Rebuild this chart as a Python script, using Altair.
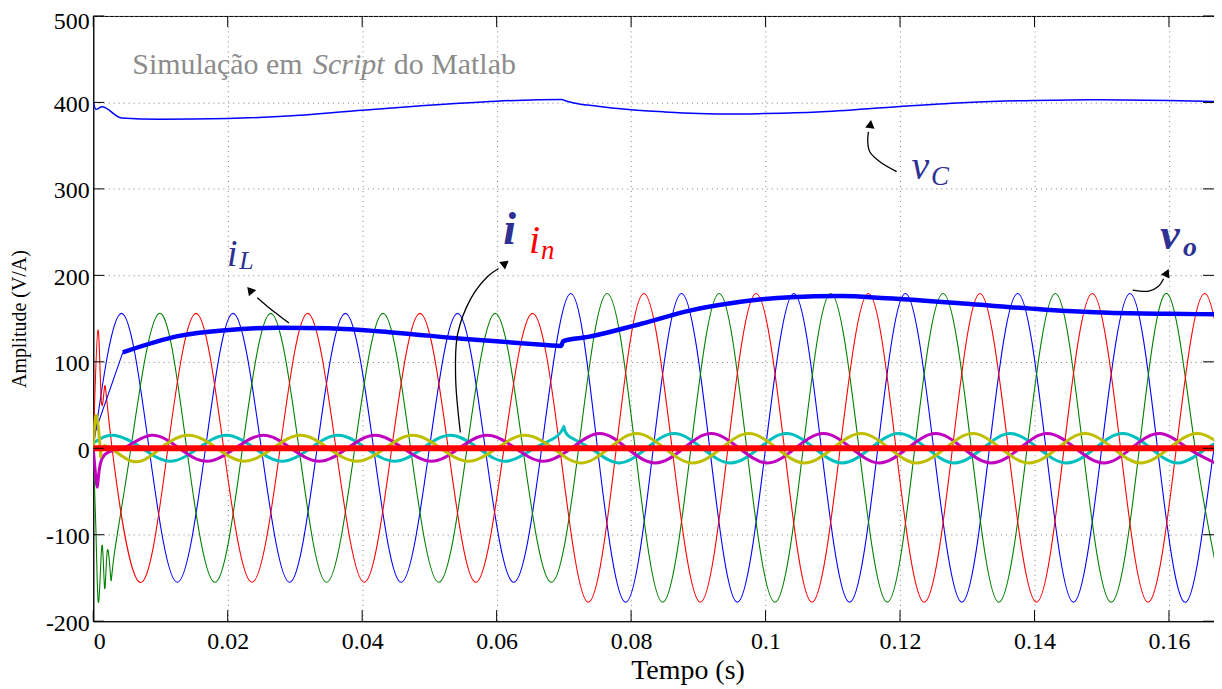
import altair as alt
import pandas as pd

# ---------------- data ----------------
# phase voltages v_o (V): blue = a, green = b, red = c
va_t = [0.0000, 0.0042, 0.0083, 0.0125, 0.0167, 0.0208, 0.0250, 0.0292, 0.0333, 0.0375, 0.0417, 0.0458,
        0.0500, 0.0542, 0.0583, 0.0625, 0.0667, 0.0710, 0.0750, 0.0792, 0.0833, 0.0875, 0.0917,
        0.0958, 0.1000, 0.1042, 0.1083, 0.1125, 0.1167, 0.1208, 0.1250, 0.1292, 0.1333, 0.1375, 0.1417,
        0.1458, 0.1500, 0.1542, 0.1583, 0.1625, 0.1667, 0.1708]
va_v = [0, 156, 0, -155, 0, 156, 0, -155, 0, 156, 0, -155, 0, 156, 0, -155, 0, 179, 0, -178,
        0, 179, 0, -178, 0, 179, 0, -178, 0, 179, 0, -178, 0, 179, 0, -178, 0, 179, 0, -178, 0, 179]

vb_t = [0.0000, 0.0004, 0.0008, 0.0013, 0.0017, 0.0021, 0.0026, 0.0031, 0.0056, 0.0098, 0.0139, 0.0181,
        0.0222, 0.0264, 0.0306, 0.0347, 0.0389, 0.0431, 0.0472, 0.0514, 0.0556, 0.0598, 0.0639, 0.0681,
        0.0722, 0.0764, 0.0806, 0.0847, 0.0889, 0.0931, 0.0972, 0.1014, 0.1056, 0.1097, 0.1139, 0.1181,
        0.1222, 0.1264, 0.1306, 0.1347, 0.1389, 0.1431, 0.1472, 0.1514, 0.1556, 0.1597, 0.1639, 0.1681]
vb_v = [0, -95, -178, -112, -162, -118, -150, -124, 0, 156, 0, -155, 0, 156, 0, -155, 0, 156, 0, -155,
        0, 156, 0, -155, 0, 179, 0, -178, 0, 179, 0, -178, 0, 179, 0, -178, 0, 179, 0, -178,
        0, 179, 0, -178, 0, 179, 0, -178]

vc_t = [0.0000, 0.0007, 0.0012, 0.0017, 0.0028, 0.0069, 0.0111, 0.0153, 0.0194, 0.0236, 0.0278, 0.0319,
        0.0361, 0.0403, 0.0444, 0.0486, 0.0528, 0.0569, 0.0611, 0.0653, 0.0694, 0.0736, 0.0778, 0.0819,
        0.0861, 0.0903, 0.0944, 0.0986, 0.1028, 0.1069, 0.1111, 0.1153, 0.1194, 0.1236, 0.1278, 0.1319,
        0.1361, 0.1403, 0.1444, 0.1486, 0.1528, 0.1569, 0.1611, 0.1653, 0.1694]
vc_v = [0, 137, 55, 72, 0, -155, 0, 156, 0, -155, 0, 156, 0, -155, 0, 156, 0, -155, 0, 156,
        0, -178, 0, 179, 0, -178, 0, 179, 0, -178, 0, 179, 0, -178, 0, 179, 0, -178, 0, 179,
        0, -178, 0, 179, 0]

# phase currents i (A): cyan, magenta, yellow ; neutral current i_n: red
ia_t = [0.0000, 0.0031, 0.0073, 0.0114, 0.0156, 0.0198, 0.0240, 0.0281, 0.0323, 0.0364, 0.0406, 0.0448,
        0.0490, 0.0531, 0.0573, 0.0614, 0.0656, 0.0690, 0.0700, 0.0706, 0.0740, 0.0781, 0.0823, 0.0864,
        0.0906, 0.0948, 0.0990, 0.1031, 0.1073, 0.1114, 0.1156, 0.1198, 0.1240, 0.1281, 0.1323, 0.1364,
        0.1406, 0.1448, 0.1490, 0.1531, 0.1573, 0.1614, 0.1656, 0.1698]
ia_v = [6, 15, 0, -15, 0, 15, 0, -15, 0, 15, 0, -15, 0, 15, 0, -15, 0, 14, 25, 15, 0, -17, 0, 17,
        0, -17, 0, 17, 0, -17, 0, 17, 0, -17, 0, 17, 0, -17, 0, 17, 0, -17, 0, 17]

ib_t = [0.0000, 0.0006, 0.0013, 0.0044, 0.0086, 0.0128, 0.0169, 0.0211, 0.0253, 0.0294, 0.0336, 0.0378,
        0.0419, 0.0461, 0.0503, 0.0544, 0.0586, 0.0628, 0.0669, 0.0711, 0.0753, 0.0794, 0.0836, 0.0878,
        0.0919, 0.0961, 0.1003, 0.1044, 0.1086, 0.1128, 0.1169, 0.1211, 0.1253, 0.1294, 0.1336, 0.1378,
        0.1419, 0.1461, 0.1503, 0.1544, 0.1586, 0.1628, 0.1669]
ib_v = [0, -45, -12, 0, 15, 0, -15, 0, 15, 0, -15, 0, 15, 0, -15, 0, 15, 0, -15, 0, 17, 0, -17, 0,
        17, 0, -17, 0, 17, 0, -17, 0, 17, 0, -17, 0, 17, 0, -17, 0, 17, 0, -17]

ic_t = [0.0000, 0.0005, 0.0011, 0.0017, 0.0058, 0.0100, 0.0142, 0.0184, 0.0225, 0.0267, 0.0308, 0.0350,
        0.0392, 0.0434, 0.0475, 0.0517, 0.0558, 0.0600, 0.0642, 0.0684, 0.0725, 0.0767, 0.0808, 0.0850,
        0.0892, 0.0934, 0.0975, 0.1017, 0.1058, 0.1100, 0.1142, 0.1184, 0.1225, 0.1267, 0.1308, 0.1350,
        0.1392, 0.1434, 0.1475, 0.1517, 0.1558, 0.1600, 0.1642, 0.1684]
ic_v = [0, 37, -8, 3, -15, 0, 15, 0, -15, 0, 15, 0, -15, 0, 15, 0, -15, 0, 15, 0, -17, 0, 17, 0,
        -17, 0, 17, 0, -17, 0, 17, 0, -17, 0, 17, 0, -17, 0, 17, 0, -17, 0, 17, 0]

in_t = [0.0000, 0.1667]
in_v = [0, 0]

# DC-link voltage v_C (V)
vcap_t = [0.0000, 0.0004, 0.0013, 0.0042, 0.0099, 0.0200, 0.0314, 0.0400, 0.0484, 0.0600, 0.0697,
          0.0702, 0.0750, 0.0800, 0.0850, 0.0900, 0.0950, 0.1000, 0.1077, 0.1200, 0.1300, 0.1400,
          0.1496, 0.1600, 0.1667]
vcap_v = [400, 392, 395, 382, 380.5, 381.4, 385.5, 391, 396, 401.5, 403.5,
          402, 395.5, 391.5, 389, 387.2, 386.5, 387.2, 389, 395.4, 400, 402.3,
          403, 402.3, 401]

# inductor current i_L (A)
iL0_t = [0.0002, 0.0044]
iL0_v = [17, 111]
iL_t = [0.0044, 0.0128, 0.0197, 0.0276, 0.0350, 0.0449, 0.0548, 0.0647, 0.0696, 0.0699, 0.0736,
        0.0815, 0.0889, 0.0963, 0.1037, 0.1111, 0.1180, 0.1313, 0.1412, 0.1511, 0.1600, 0.1667]
iL_v = [111, 130, 136.5, 139.5, 138.8, 133.7, 126.8, 121, 118.4, 124, 128.8,
        144, 159.5, 169.4, 174.8, 176, 173.5, 166.4, 160.6, 156.7, 155.5, 155]

# axis ticks
x_ticks = [0, 0.02, 0.04, 0.06, 0.08, 0.1, 0.12, 0.14, 0.16]
y_ticks = [-200, -100, 0, 100, 200, 300, 400, 500]

# annotation arrows (data coords) and arrow-heads (t, v, angle)
arr_vc_t = [0.1195, 0.1170, 0.1155, 0.1152, 0.1153]
arr_vc_v = [320, 331.4, 343, 354.3, 366]
arr_il_t = [0.0291, 0.0274, 0.0259, 0.0244]
arr_il_v = [144.9, 155, 164, 174]
arr_i_t = [0.0546, 0.0539, 0.0542, 0.0562, 0.0587, 0.0603]
arr_i_v = [18.3, 81.6, 132.2, 173.7, 199, 208]
arr_vo_t = [0.1546, 0.1570, 0.1584, 0.1592]
arr_vo_v = [182.9, 181.7, 187, 196]
head_t = [0.1156, 0.0233, 0.0613, 0.1597]
head_v = [375, 183, 214, 203]
head_a = [8, 320, 52, 25]

# text annotations: (text, t, v, size, color, style, weight)
notes = [
    ("Simulação em", 0.0058, 432.6, 30, "#8c8c8c", "normal", "normal"),
    ("Script", 0.0327, 432.6, 30, "#8c8c8c", "italic", "normal"),
    ("do Matlab", 0.0447, 432.6, 30, "#8c8c8c", "normal", "normal"),
    ("v", 0.1217, 311.7, 40, "#2e3192", "italic", "normal"),
    ("C", 0.1246, 304.5, 27, "#2e3192", "italic", "normal"),
    ("i", 0.0199, 210.5, 38, "#2e3192", "italic", "normal"),
    ("L", 0.0217, 207, 26, "#2e3192", "italic", "normal"),
    ("i", 0.0610, 235.8, 46, "#2e3192", "italic", "bold"),
    ("i", 0.0648, 225.4, 40, "#ff0000", "italic", "normal"),
    ("n", 0.0666, 218.5, 27, "#ff0000", "italic", "normal"),
    ("v", 0.1587, 230, 44, "#2e3192", "italic", "bold"),
    ("o", 0.1621, 222, 28, "#2e3192", "italic", "bold"),
]

# ---------------- chart ----------------
W, H = 1124, 607
FONT = "Liberation Serif, Tinos, Times New Roman, Times, DejaVu Serif, serif"


def X():
    return alt.X("t:Q", title="Tempo (s)",
                 scale=alt.Scale(domain=[0, 0.1667], nice=False, zero=False),
                 axis=alt.Axis(values=x_ticks, format="~g"))


def Y():
    return alt.Y("v:Q", title="Amplitude (V/A)",
                 scale=alt.Scale(domain=[-200, 500], nice=False, zero=False),
                 axis=alt.Axis(values=y_ticks, labelExpr="'' + datum.value",
                               labelOffset={"condition": {"test": "datum.value == 500", "value": 6},
                                            "value": 2}))


def series(t, v, color, width, interp="natural"):
    df = pd.DataFrame({"t": t, "v": v})
    return alt.Chart(df).mark_line(color=color, strokeWidth=width, interpolate=interp,
                                   clip=True).encode(x=X(), y=Y())


def arrow(t, v):
    df = pd.DataFrame({"t": t, "v": v, "i": list(range(len(t)))})
    return alt.Chart(df).mark_line(color="black", strokeWidth=1.3,
                                   interpolate="catmull-rom").encode(
        x=X(), y=Y(), order=alt.Order("i:Q"))


layers = [
    series(va_t, va_v, "#0000ff", 1.1),
    series(vb_t, vb_v, "#008000", 1.1),
    series(vc_t, vc_v, "#ff0000", 1.1),
    series(vcap_t, vcap_v, "#0000ff", 1.5, "monotone"),
    series(iL0_t, iL0_v, "#0000ff", 1.1, "linear"),
    series(iL_t, iL_v, "#0000ff", 4.5, "monotone"),
    series(ia_t, ia_v, "#00bfbf", 3),
    series(ib_t, ib_v, "#bf00bf", 3),
    series(ic_t, ic_v, "#bfbf00", 3),
    series(in_t, in_v, "#ff0000", 6, "linear"),
]

xt = pd.DataFrame({"t": x_ticks})
yt = pd.DataFrame({"v": y_ticks})
tick = dict(color="black", strokeWidth=1)
layers += [
    alt.Chart(xt).mark_rule(**tick).encode(x=X(), y=alt.value(H), y2=alt.value(H - 11)),
    alt.Chart(xt).mark_rule(**tick).encode(x=X(), y=alt.value(0), y2=alt.value(11)),
    alt.Chart(yt).mark_rule(**tick).encode(y=Y(), x=alt.value(0), x2=alt.value(11)),
    alt.Chart(yt).mark_rule(**tick).encode(y=Y(), x=alt.value(W), x2=alt.value(W - 11)),
]

layers += [arrow(arr_vc_t, arr_vc_v), arrow(arr_il_t, arr_il_v),
           arrow(arr_i_t, arr_i_v), arrow(arr_vo_t, arr_vo_v)]
heads = pd.DataFrame({"t": head_t, "v": head_v, "a": head_a})
layers.append(alt.Chart(heads).mark_point(shape="triangle-up", filled=True, color="black",
                                           size=90, opacity=1).encode(
    x=X(), y=Y(), angle=alt.Angle("a:Q", scale=None)))

for text, t, v, size, color, style, weight in notes:
    df = pd.DataFrame({"t": [t], "v": [v], "s": [text]})
    layers.append(alt.Chart(df).mark_text(align="left", baseline="alphabetic", font=FONT,
                                          fontSize=size, color=color, fontStyle=style,
                                          fontWeight=weight).encode(x=X(), y=Y(), text="s:N"))

chart = alt.layer(*layers).properties(
    width=W, height=H,
    autosize=alt.AutoSizeParams(type="none"),
    padding={"left": 85.5, "top": 7, "right": 0, "bottom": 66},
).configure_axis(
    labelFont=FONT, labelFontSize=24, labelColor="black",
    titleFont=FONT, titleColor="black", titleFontWeight="normal",
    domainColor="black", domainWidth=1, ticks=False,
    grid=True, gridColor="#808080", gridDash=[1, 4], gridWidth=1, gridOpacity=1,
).configure_axisX(
    labelPadding=8, titleFontSize=28, titleX=596, titleY=57, titleBaseline="alphabetic",
).configure_axisY(
    labelPadding=4, titleFontSize=20, titleX=-74, titleY=H / 2,
    titleBaseline="middle",
).configure_view(stroke="black", strokeWidth=1)

chart.save("out.html", embed_options={"renderer": "svg", "actions": False})
